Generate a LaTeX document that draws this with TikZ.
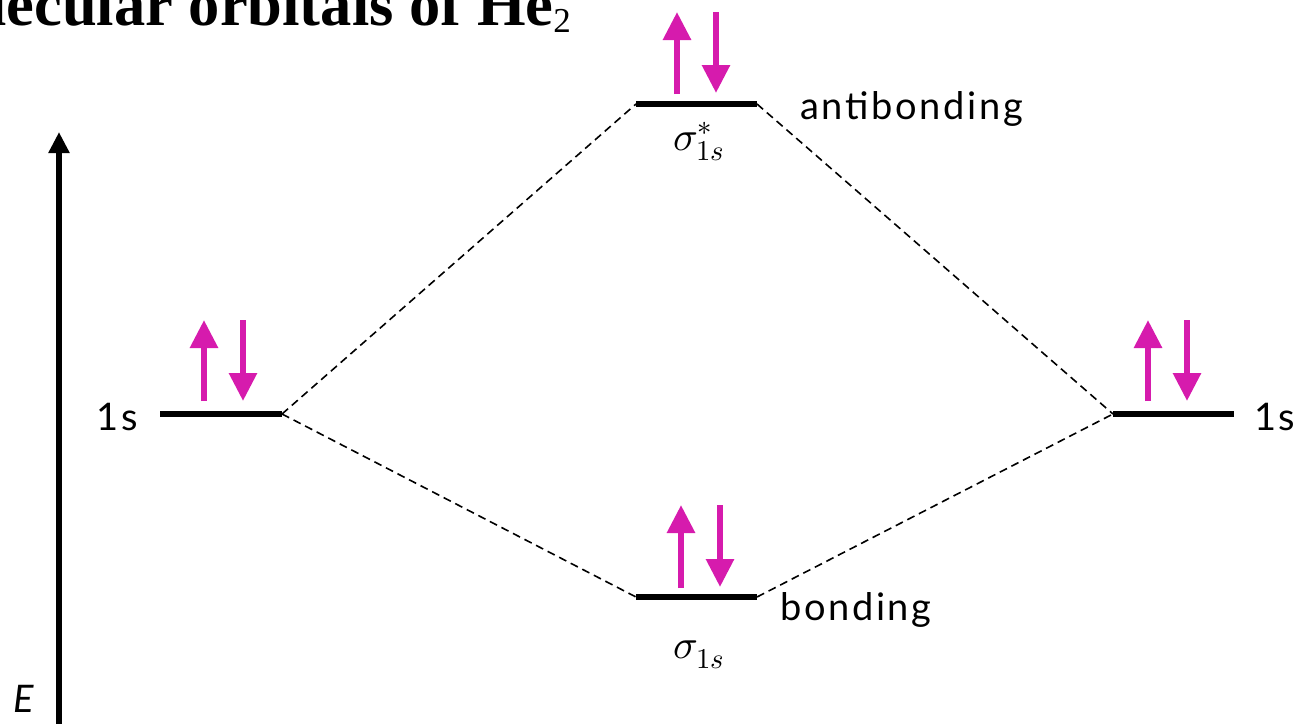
\documentclass[tikz,border=0pt]{standalone}
\usepackage{fontspec}
\usepackage{unicode-math}
\setmainfont{Lato}[LetterSpace=7]
\setmathfont{Latin Modern Math}
\newfontfamily\titlefont{Liberation Serif}
\usetikzlibrary{arrows.meta}
\definecolor{spin}{RGB}{214,27,173}
\begin{document}
\begin{tikzpicture}[x=1pt,y=-1pt,
  level/.style={line width=6.5pt},
  corr/.style={line width=1.6pt, dash pattern=on 8pt off 5pt},
  elec/.style={spin, line width=6pt, -{Triangle[length=28pt,width=27pt]}},
  lbl/.style={inner sep=0pt, font=\fontsize{38}{42}\selectfont},
  sym/.style={inner sep=0pt, font=\fontsize{41}{44}\selectfont}]
\useasboundingbox (0,0) rectangle (1295,723);
\clip (0,0) rectangle (1295,723);

% title
\node[anchor=base east, inner sep=0pt, font=\titlefont\bfseries\fontsize{62.5}{66}\selectfont] (title) at (571,25)
  {Molecular orbitals of He{\mdseries\fontsize{35}{35}\selectfont\raisebox{-7pt}{2}}};

% energy axis
\coordinate (Ebot) at (59,730);
\coordinate (Etop) at (59,132);
\draw[line width=6pt, -{Triangle[length=21pt,width=20pt]}] (Ebot) -- (Etop);
\node[inner sep=0pt, anchor=base west, font=\fontsize{38}{40}\selectfont\itshape] (E) at (13,712) {E};

% orbital levels
\coordinate (A1) at (160,414); \coordinate (A2) at (282,414);
\coordinate (B1) at (1113,414); \coordinate (B2) at (1234,414);
\coordinate (S1) at (636,104); \coordinate (S2) at (757,104);
\coordinate (P1) at (636,597); \coordinate (P2) at (757,597);
\draw[level] (A1) -- (A2);
\draw[level] (B1) -- (B2);
\draw[level] (S1) -- (S2);
\draw[level] (P1) -- (P2);

% correlation lines
\draw[corr] (A2) -- (S1);
\draw[corr] (A2) -- (P1);
\draw[corr] (S2) -- (B1);
\draw[corr] (P2) -- (B1);

% electrons
\draw[elec] (204,401) -- (204,320);
\draw[elec] (243,320) -- (243,401);
\draw[elec] (1148,401) -- (1148,320);
\draw[elec] (1187,320) -- (1187,401);
\draw[elec] (677,94) -- (677,12);
\draw[elec] (716,12) -- (716,93);
\draw[elec] (681,588) -- (681,505);
\draw[elec] (720,505) -- (720,587);

% labels
\node[lbl, anchor=base east] (l1s) at (138,430) {1s};
\node[lbl, anchor=base west] (r1s) at (1254,430) {1s};
\node[lbl, anchor=base west] (anti) at (800,119) {antibonding};
\node[lbl, anchor=base west] (bond) at (780,620) {bonding};
\node[sym, anchor=base] (sstar) at (699,150) {$\sigma_{1s}^{*}$};
\node[sym, anchor=base] (sig) at (699,658) {$\sigma_{1s}$};
\end{tikzpicture}
\end{document}
